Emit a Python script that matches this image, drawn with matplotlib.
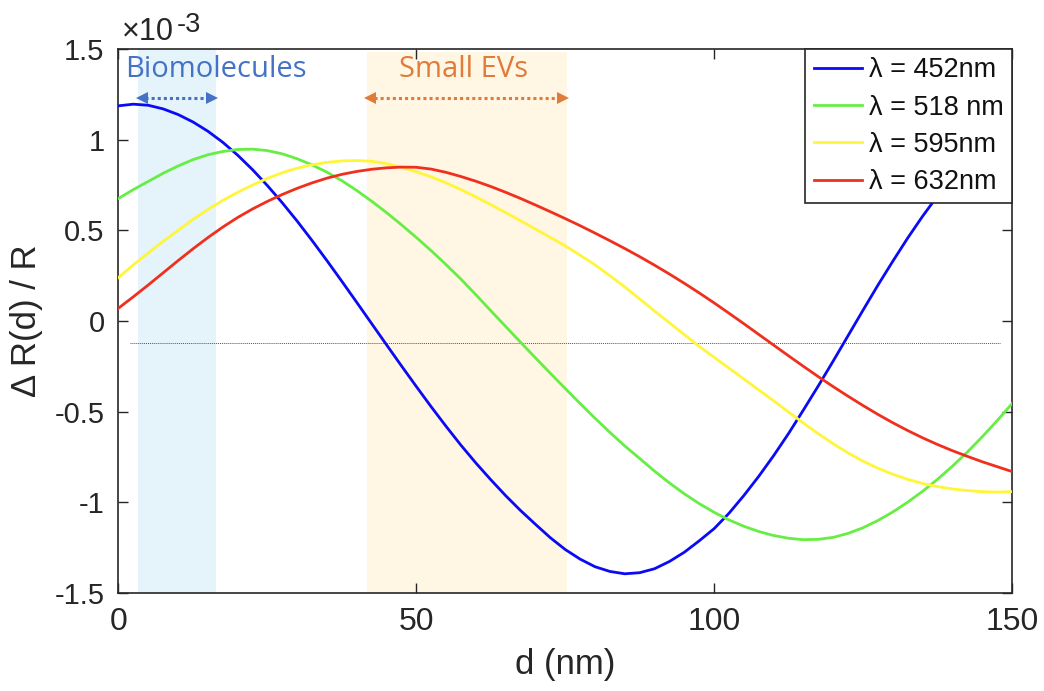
import matplotlib
matplotlib.use("Agg")
import matplotlib.pyplot as plt
import numpy as np

plt.rcParams['font.family'] = ['Liberation Sans', 'DejaVu Sans']
plt.rcParams['axes.unicode_minus'] = False

# ---- data (values in units of 1e-3), sampled every 2.5 nm ----
d_nm = [i * 2.5 for i in range(61)]

blue_452 = [1.187, 1.196, 1.19, 1.17, 1.139, 1.098, 1.047, 0.986, 0.915, 0.835,
            0.747, 0.652, 0.551, 0.444, 0.333, 0.219, 0.103, -0.014, -0.131, -0.247,
            -0.361, -0.473, -0.581, -0.685, -0.783, -0.875, -0.963, -1.045, -1.121, -1.195,
            -1.26, -1.313, -1.355, -1.381, -1.394, -1.388, -1.366, -1.326, -1.275, -1.212,
            -1.145, -1.06, -0.962, -0.856, -0.742, -0.62, -0.49, -0.357, -0.22, -0.08,
            0.06, 0.198, 0.33, 0.458, 0.578, 0.69, 0.794, 0.888, 0.971, 1.041, 1.098]
green_518 = [0.676, 0.725, 0.77, 0.815, 0.855, 0.89, 0.917, 0.935, 0.946, 0.948,
             0.94, 0.922, 0.895, 0.861, 0.821, 0.774, 0.72, 0.661, 0.598, 0.531,
             0.461, 0.388, 0.311, 0.231, 0.145, 0.057, -0.03, -0.117, -0.203, -0.288,
             -0.372, -0.455, -0.536, -0.614, -0.689, -0.758, -0.828, -0.893, -0.953, -1.007,
             -1.055, -1.097, -1.132, -1.161, -1.183, -1.198, -1.206, -1.204, -1.193, -1.171,
             -1.14, -1.10, -1.053, -0.999, -0.939, -0.873, -0.801, -0.723, -0.639, -0.55, -0.456]
yellow_595 = [0.24, 0.31, 0.375, 0.44, 0.50, 0.56, 0.615, 0.665, 0.71, 0.75,
              0.787, 0.818, 0.843, 0.862, 0.875, 0.883, 0.885, 0.881, 0.868, 0.848,
              0.823, 0.795, 0.762, 0.725, 0.684, 0.642, 0.598, 0.553, 0.507, 0.461,
              0.415, 0.363, 0.31, 0.25, 0.188, 0.122, 0.055, -0.01, -0.075, -0.14,
              -0.20, -0.26, -0.32, -0.38, -0.44, -0.502, -0.563, -0.622, -0.677, -0.728,
              -0.773, -0.812, -0.845, -0.873, -0.896, -0.913, -0.926, -0.935, -0.941, -0.943, -0.941]
red_632 = [0.071, 0.134, 0.199, 0.266, 0.333, 0.398, 0.46, 0.518, 0.571, 0.618,
           0.66, 0.698, 0.732, 0.762, 0.788, 0.809, 0.825, 0.837, 0.845, 0.849,
           0.848, 0.838, 0.82, 0.797, 0.771, 0.742, 0.71, 0.676, 0.64, 0.603,
           0.565, 0.526, 0.485, 0.443, 0.40, 0.355, 0.308, 0.259, 0.208, 0.155,
           0.10, 0.043, -0.015, -0.074, -0.133, -0.192, -0.25, -0.307, -0.362, -0.415,
           -0.466, -0.515, -0.561, -0.604, -0.644, -0.681, -0.715, -0.746, -0.776, -0.803, -0.83]

series_labels = ['\u03bb = 452nm', '\u03bb = 518 nm', '\u03bb = 595nm', '\u03bb = 632nm']
series_colors = ['#0A0AF5', '#66EE44', '#FFF53A', '#F0301E']

ref_level = -0.123
ref_range = [2, 148]

bio_range = [3.3, 16.3]
ev_range = [41.7, 75.3]
region_labels = ['Biomolecules', 'Small EVs']

x_ticks = [0, 50, 100, 150]
y_ticks = [-1.5, -1, -0.5, 0, 0.5, 1, 1.5]
y_ticklabels = ['-1.5', '-1', '-0.5', '0', '0.5', '1', '1.5']

# ---- figure ----
fig = plt.figure(figsize=(10.44, 6.91), dpi=100)
ax = fig.add_axes([0.1135, 0.1418, 0.8558, 0.7872])

ax.axvspan(bio_range[0], bio_range[1], ymin=0, ymax=1, color='#E5F3FB', lw=0, zorder=0)
ax.axvspan(ev_range[0], ev_range[1], ymin=0, ymax=0.994, color='#FFF6E3', lw=0, zorder=0)

ax.plot(ref_range, [ref_level, ref_level], color='#555555', lw=0.7, ls=(0, (1, 1)), zorder=1)

for vals, lab, col in zip([blue_452, green_518, yellow_595, red_632], series_labels, series_colors):
    ax.plot(d_nm, vals, color=col, lw=2.0, label=lab, zorder=3, solid_joinstyle='round')

ax.set_xlim(0, 150)
ax.set_ylim(-1.5, 1.5)
ax.set_xticks(x_ticks)
ax.set_xticklabels([str(t) for t in x_ticks])
ax.set_yticks(y_ticks)
ax.set_yticklabels(y_ticklabels)
ax.tick_params(direction='in', length=7, width=1, top=True, right=True, colors='#262626')
ax.tick_params(axis='y', labelsize=21, pad=10)
ax.tick_params(axis='x', labelsize=23, pad=10)
for s in ax.spines.values():
    s.set_color('#262626')
    s.set_linewidth(1.2)

ax.set_xlabel('d (nm)', fontsize=25, color='#262626', labelpad=8)
ax.set_ylabel('\u0394 R(d) / R', fontsize=25, color='#262626', labelpad=8)

# exponent label (MATLAB style)
ax.annotate('\u00d710', xy=(0, 1), xycoords='axes fraction', xytext=(2.5, 6.5),
            textcoords='offset points', fontsize=22, color='#262626',
            ha='left', va='baseline')
ax.annotate('-3', xy=(0, 1), xycoords='axes fraction', xytext=(42, 12.5),
            textcoords='offset points', fontsize=19.5, color='#262626',
            ha='left', va='baseline')

# region annotations
bio_col = '#4472C4'
ev_col = '#E07B39'
arrow_y = 1.23
ax.text(bio_range[0] - 2.2, 1.385, region_labels[0], fontsize=21, color=bio_col,
        family=['Open Sans', 'DejaVu Sans'], ha='left', va='center', zorder=5)
ax.text(57.9, 1.385, region_labels[1], fontsize=21, color=ev_col,
        family=['Open Sans', 'DejaVu Sans'], ha='center', va='center', zorder=5)
for rng, col in [(bio_range, bio_col), (ev_range, ev_col)]:
    ax.plot([rng[0] + 1.2, rng[1] - 1.2], [arrow_y, arrow_y], color=col, lw=2.2,
            ls=(0, (1, 1)), zorder=5)
    ax.plot([rng[0] + 0.6], [arrow_y], marker='<', color=col, ms=8, mew=0, zorder=5)
    ax.plot([rng[1] - 0.6], [arrow_y], marker='>', color=col, ms=8, mew=0, zorder=5)

leg = ax.legend(loc='upper right', bbox_to_anchor=(1.0, 1.0), borderaxespad=0,
                fontsize=19.5, frameon=True, fancybox=False, handlelength=1.8,
                handletextpad=0.25, labelspacing=0.42, borderpad=0.3)
leg.get_frame().set_edgecolor('#262626')
leg.get_frame().set_linewidth(1.2)
leg.get_frame().set_alpha(1)
for t in leg.get_texts():
    t.set_color('#111111')

fig.savefig('out.png', dpi=100)
